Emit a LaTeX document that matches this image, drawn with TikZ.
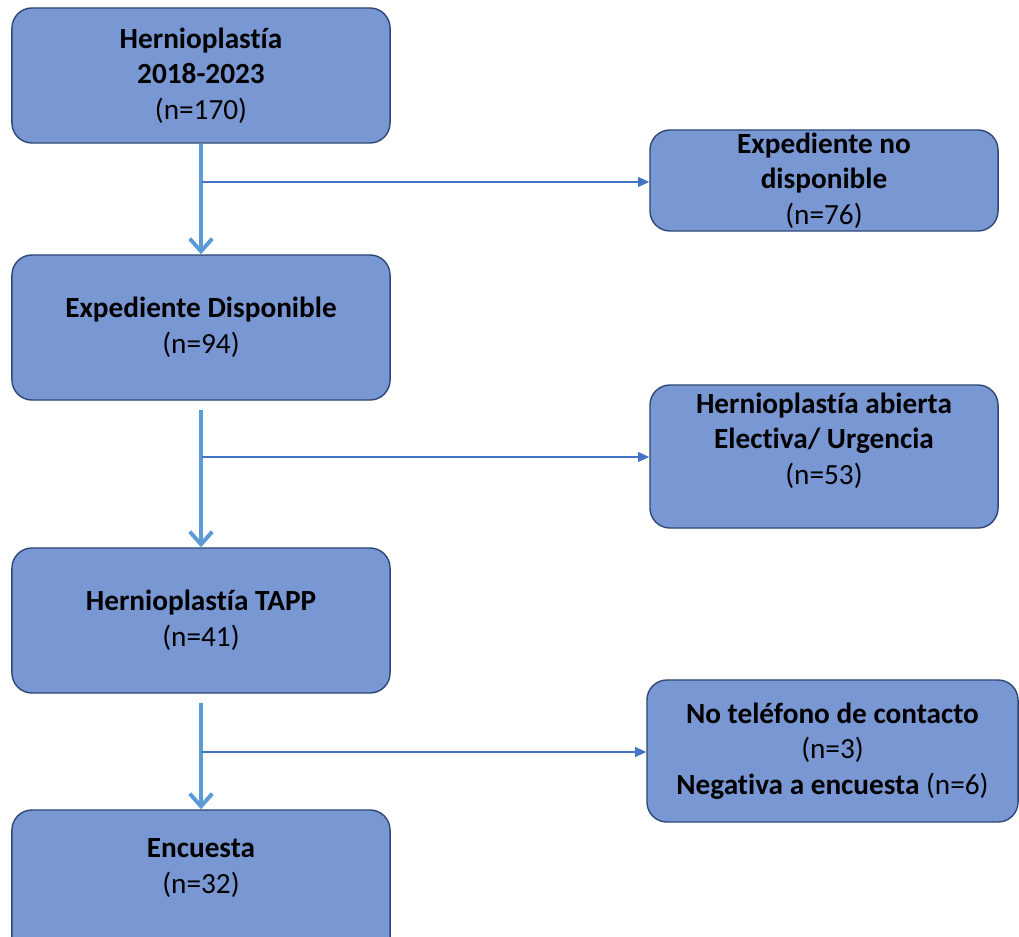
\documentclass[tikz,border=0pt]{standalone}
\usepackage{fontspec}
\setmainfont{Carlito}[Ligatures=NoCommon]
\usetikzlibrary{arrows.meta}
\definecolor{boxfill}{RGB}{120,151,211}
\definecolor{boxline}{RGB}{47,72,118}
\definecolor{vline}{RGB}{91,155,213}
\definecolor{hline}{RGB}{68,114,196}
\begin{document}
\begin{tikzpicture}[x=0.025cm,y=-0.025cm,
  caja/.style={draw=boxline,fill=boxfill,line width=1pt,rounded corners=0.5cm,
    align=center,inner sep=0pt,font=\fontsize{20.8}{25.3}\selectfont},
  bajada/.style={draw=vline,line width=2.8pt,-{Straight Barb[length=9pt,width=16pt]}},
  salida/.style={draw=hline,line width=1.3pt,-{Triangle[length=8pt,width=7pt]}}]
\useasboundingbox (0,0) rectangle (1019,937);
\clip (0,0) rectangle (1019,937);
% left column
\node[caja,minimum width=9.45cm,minimum height=3.375cm] (hernio) at (201,75.5)
  {\textbf{Hernioplastía}\\\textbf{2018-2023}\\(n=170)};
\node[caja,minimum width=9.45cm,minimum height=3.625cm] (disp) at (201,327.5)
  {\textbf{Expediente Disponible}\\(n=94)};
\node[caja,minimum width=9.45cm,minimum height=3.625cm] (tapp) at (201,620.5)
  {\textbf{Hernioplastía TAPP}\\(n=41)};
\node[caja,minimum width=9.45cm,minimum height=3.7cm] (encuesta) at (201,884)
  {\textbf{Encuesta}\\(n=32)\\\mbox{}};
% right column
\node[caja,minimum width=8.7cm,minimum height=2.525cm] (nodisp) at (824,180.5)
  {\textbf{Expediente no}\\\textbf{disponible}\\(n=76)};
\node[caja,minimum width=8.7cm,minimum height=3.575cm] (abierta) at (824,456.5)
  {\textbf{Hernioplastía abierta}\\\textbf{Electiva/ Urgencia}\\(n=53)\\\mbox{}};
\node[caja,minimum width=9.275cm,minimum height=3.55cm] (excluidos) at (832.5,751)
  {\textbf{No teléfono de contacto}\\(n=3)\\\textbf{Negativa a encuesta} (n=6)};
% branch points
\coordinate (r1) at (202,182);
\coordinate (r2) at (202,457);
\coordinate (r3) at (202,752);
% arrows
\draw[bajada] (hernio.south) -- (disp.north);
\draw[bajada,shorten <=0.225cm] (disp.south) -- (tapp.north);
\draw[bajada,shorten <=0.225cm] (tapp.south) -- (encuesta.north);
\draw[salida] (r1) -- (r1 -| nodisp.west);
\draw[salida] (r2) -- (r2 -| abierta.west);
\draw[salida] (r3) -- (r3 -| excluidos.west);
\end{tikzpicture}
\end{document}
